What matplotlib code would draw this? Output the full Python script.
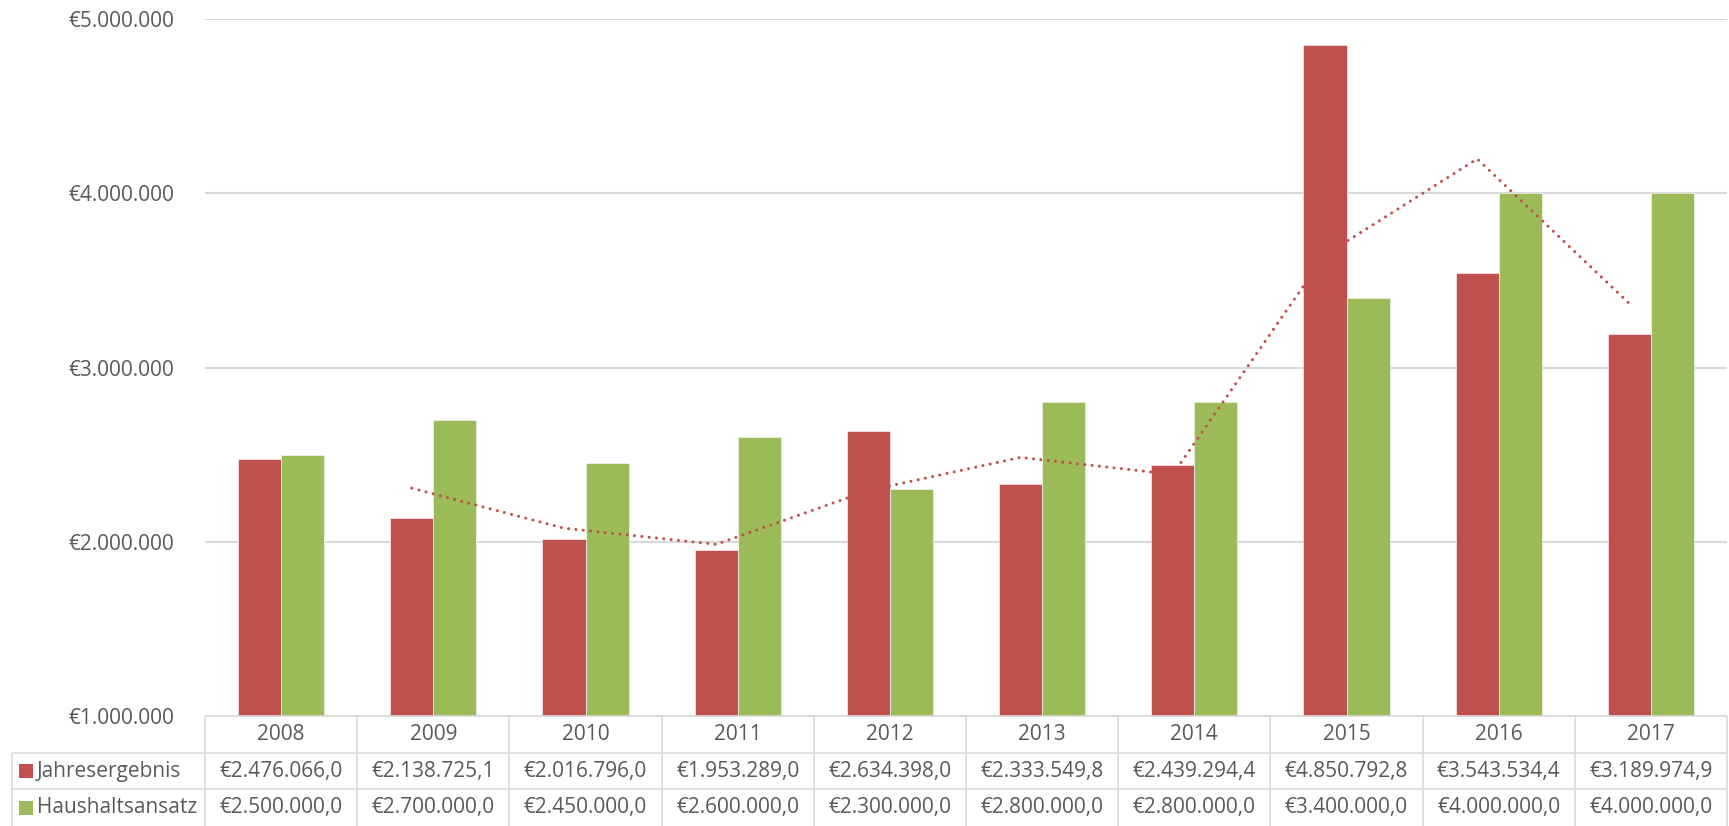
import matplotlib.pyplot as plt
import numpy as np
from matplotlib.ticker import FuncFormatter

plt.rcParams['font.family'] = ['Open Sans', 'DejaVu Sans']

# ======== data ========
years = ['2008', '2009', '2010', '2011', '2012', '2013', '2014', '2015', '2016', '2017']
jahresergebnis = [2476066.0, 2138725.1, 2016796.0, 1953289.0, 2634398.0,
                  2333549.8, 2439294.4, 4850792.8, 3543534.4, 3189974.9]
haushaltsansatz = [2500000.0, 2700000.0, 2450000.0, 2600000.0, 2300000.0,
                   2800000.0, 2800000.0, 3400000.0, 4000000.0, 4000000.0]
series_names = ['Jahresergebnis', 'Haushaltsansatz']
y_ticks = [1000000, 2000000, 3000000, 4000000, 5000000]

RED = '#C0504D'
GREEN = '#9BBB59'
GRID = '#D9D9D9'
TXT = '#595959'

W, H = 1729, 826
fig = plt.figure(figsize=(W / 100, H / 100), dpi=100)

# pixel layout
ax_l, ax_r, ax_t, ax_b = 205, 1727, 19, 716
tab_l = 12
ax = fig.add_axes([ax_l / W, (H - ax_b) / H, (ax_r - ax_l) / W, (ax_b - ax_t) / H])

x = np.arange(len(years))
bw = 0.283
ax.bar(x - bw / 2, jahresergebnis, bw, color=RED, edgecolor='white', linewidth=0.4, zorder=3)
ax.bar(x + bw / 2, haushaltsansatz, bw, color=GREEN, edgecolor='white', linewidth=0.4, zorder=3)

# 2-period moving average trendline of Jahresergebnis
je = np.array(jahresergebnis)
ma = (je[1:] + je[:-1]) / 2
ax.plot(x[1:] - bw / 2, ma, color=RED, lw=2.2, linestyle=(0, (0.01, 2.4)),
        dash_capstyle='round', zorder=4)

ax.set_xlim(-0.5, len(years) - 0.5)
ax.set_ylim(y_ticks[0], y_ticks[-1])
ax.set_yticks(y_ticks)
ax.yaxis.set_major_formatter(FuncFormatter(lambda v, p: '€' + f'{v:,.0f}'.replace(',', '.')))
ax.tick_params(axis='y', length=0, labelsize=15, labelcolor=TXT, pad=22)
ax.set_xticks([])
for s in ax.spines.values():
    s.set_visible(False)
ax.grid(axis='y', color=GRID, lw=1.5, zorder=0)

# ======== data table ========
unit = (ax_r - ax_l) / len(years)
x_left = -0.5 - (ax_l - tab_l) / unit
tax = fig.add_axes([tab_l / W, 0, (ax_r - tab_l) / W, (H - ax_b) / H])
tax.set_xlim(x_left, len(years) - 0.5)
tax.set_ylim(3, 0)
tax.axis('off')

lkw = dict(color=GRID, lw=1.2, clip_on=False, solid_capstyle='butt')
tax.plot([-0.5, len(years) - 0.5], [0, 0], **lkw)
for r in (1, 2):
    tax.plot([x_left, len(years) - 0.5], [r, r], **lkw)
for k in range(len(years) + 1):
    tax.plot([k - 0.5, k - 0.5], [0, 3], **lkw)
tax.plot([x_left, x_left], [1, 3], **lkw)

def fmt(v):
    return '€' + f'{v:,.1f}'.replace(',', 'X').replace('.', ',').replace('X', '.')

fs = 15
for i, yr in enumerate(years):
    tax.text(i, 0.5, yr, ha='center', va='center', fontsize=fs, color=TXT)
    tax.text(i, 1.5, fmt(jahresergebnis[i]), ha='center', va='center', fontsize=fs, color=TXT)
    tax.text(i, 2.5, fmt(haushaltsansatz[i]), ha='center', va='center', fontsize=fs, color=TXT)

for r, (name, col) in enumerate(zip(series_names, [RED, GREEN])):
    tax.plot(x_left + (26 - tab_l) / unit, 1.5 + r, marker='s', markersize=10,
             markeredgewidth=0, color=col, clip_on=False)
    tax.text(x_left + (37 - tab_l) / unit, 1.5 + r, name, ha='left', va='center',
             fontsize=fs, color=TXT)

fig.savefig('out.png', dpi=100, facecolor='white')
